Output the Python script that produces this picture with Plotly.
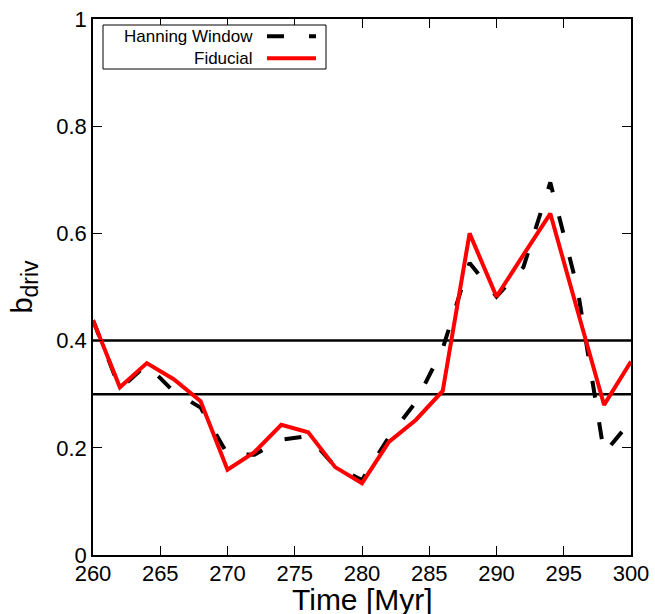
import plotly.graph_objects as go

# Sample times [Myr]
time = [260, 262, 264, 266, 268, 270, 272, 274, 276, 278, 280,
        282, 284, 286, 288, 290, 292, 294, 296, 298, 300]

# Driving parameter b_driv for the two runs
fiducial = [0.438, 0.313, 0.358, 0.328, 0.287, 0.159, 0.192, 0.243, 0.229, 0.164, 0.134,
            0.211, 0.252, 0.306, 0.600, 0.482, 0.560, 0.637, 0.458, 0.280, 0.361]
hanning = [0.438, 0.310, 0.355, 0.305, 0.275, 0.188, 0.187, 0.215, 0.222, 0.165, 0.140,
           0.220, 0.285, 0.385, 0.545, 0.482, 0.537, 0.695, 0.500, 0.190, 0.250]

# Reference levels
ref_levels = [0.4, 0.3]

x_ticks = [260, 265, 270, 275, 280, 285, 290, 295, 300]
y_ticks = [0, 0.2, 0.4, 0.6, 0.8, 1.0]
y_tick_text = ["0", "0.2", "0.4", "0.6", "0.8", "1"]

legend_labels = ["Hanning Window", "Fiducial"]
x_title = "Time [Myr]"
y_title = "b<sub><span style='font-size:23px'>driv</span></sub>"

FONT = "Liberation Sans, Arial, sans-serif"
DASH = "17px,25px"

fig = go.Figure()

fig.add_trace(go.Scatter(x=time, y=hanning, mode="lines", name=legend_labels[0],
                         line=dict(color="black", width=4, dash=DASH)))
fig.add_trace(go.Scatter(x=time, y=fiducial, mode="lines", name=legend_labels[1],
                         line=dict(color="#ff0000", width=4)))

for lvl in ref_levels:
    fig.add_hline(y=lvl, line=dict(color="black", width=2.5), layer="below")

# Key box in the upper-left corner, gnuplot style (text left of sample)
box_x0, box_x1 = 0.0186, 0.4331
box_y0, box_y1 = 0.9067, 0.9888
fig.add_shape(type="rect", xref="paper", yref="paper",
              x0=box_x0, x1=box_x1, y0=box_y0, y1=box_y1,
              line=dict(color="black", width=1), fillcolor="white")
rows_y = [0.968, 0.927]
styles = [dict(color="black", width=4, dash=DASH), dict(color="#ff0000", width=4)]
for label, ry, st in zip(legend_labels, rows_y, styles):
    fig.add_annotation(xref="paper", yref="paper", x=0.3011, y=ry,
                       text=label, showarrow=False, xanchor="right", yanchor="middle",
                       font=dict(family=FONT, size=17, color="black"))
    fig.add_shape(type="line", xref="paper", yref="paper",
                  x0=0.3234, x1=0.4145, y0=ry, y1=ry, line=st)

# Axis titles placed as annotations for exact positioning
fig.add_annotation(xref="paper", yref="paper", x=0.5, y=-0.083, text=x_title,
                   showarrow=False, xanchor="center", yanchor="middle",
                   font=dict(family=FONT, size=30, color="black"))
fig.add_annotation(xref="paper", yref="paper", x=-0.128, y=0.501, text=y_title,
                   showarrow=False, xanchor="center", yanchor="middle", textangle=-90,
                   font=dict(family=FONT, size=29, color="black"))

fig.update_layout(
    width=655, height=614,
    margin=dict(l=93, r=24, t=19, b=59, autoexpand=False),
    paper_bgcolor="white", plot_bgcolor="white",
    showlegend=False,
    font=dict(family=FONT, color="black", size=22),
    xaxis=dict(range=[260, 300], tickvals=x_ticks, ticks="inside", ticklen=9,
               tickcolor="black", showline=True, linecolor="black", linewidth=1.5,
               mirror="ticks", showgrid=False, zeroline=False, automargin=False,
               tickfont=dict(size=22), ticklabelstandoff=-2),
    yaxis=dict(range=[0, 1], tickvals=y_ticks, ticktext=y_tick_text, ticks="inside",
               ticklen=9, tickcolor="black", showline=True, linecolor="black",
               linewidth=1.5, mirror="ticks", showgrid=False, zeroline=False,
               automargin=False, tickfont=dict(size=22)),
)

fig.write_html("out.html")
